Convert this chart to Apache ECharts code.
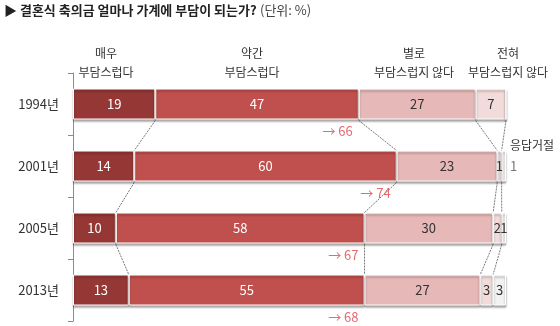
<!DOCTYPE html>
<html>
<head>
<meta charset="utf-8">
<script src="https://cdn.jsdelivr.net/npm/echarts@6/dist/echarts.min.js"></script>
<style>html,body{margin:0;padding:0;background:#fff}#c{width:560px;height:326px}</style>
</head>
<body>
<div id="c"></div>
<script>
// ---- data ----
const years = ['1994년', '2001년', '2005년', '2013년'];
const veryBurden = [19, 14, 10, 13];       // 매우 부담스럽다
const somewhatBurden = [47, 60, 58, 55];   // 약간 부담스럽다
const notVeryBurden = [27, 23, 30, 27];    // 별로 부담스럽지 않다
const notAtAllBurden = [7, 1, 2, 3];       // 전혀 부담스럽지 않다
const refused = [0, 1, 1, 3];              // 응답거절
const combined = [66, 74, 67, 68];         // 매우+약간

const seriesNames = ['매우 부담스럽다', '약간 부담스럽다', '별로 부담스럽지 않다', '전혀 부담스럽지 않다', '응답거절'];
const seriesData = [veryBurden, somewhatBurden, notVeryBurden, notAtAllBurden, refused];
const colors = ['#953735', '#C0504D', '#E6B9B8', '#F2DCDB', '#F2F2F2'];
const labelColors = ['#ffffff', '#ffffff', '#333333', '#333333', '#333333'];

const FONT = '"Noto Sans CJK KR", "Noto Sans", sans-serif';

const rowSum = years.map((_, i) => seriesData.reduce((s, arr) => s + arr[i], 0));
const norm = seriesData.map(arr => arr.map((v, i) => v / rowSum[i] * 100));
// cumulative normalized boundaries
const cum = years.map((_, i) => {
  let s = 0; const out = [];
  for (let k = 0; k < norm.length; k++) { s += norm[k][i]; out.push(s); }
  return out;
});

const barSeries = seriesNames.map((name, k) => ({
  name: name,
  type: 'bar',
  stack: 'total',
  barWidth: '50%',
  itemStyle: {
    color: colors[k],
    borderColor: '#ffffff',
    borderWidth: 1,
    shadowColor: 'rgba(0,0,0,0.35)',
    shadowBlur: 2,
    shadowOffsetY: 2
  },
  label: {
    show: true,
    position: 'inside',
    color: labelColors[k],
    fontSize: 13,
    fontFamily: FONT
  },
  data: norm[k].map((v, i) => {
    const raw = seriesData[k][i];
    const item = { value: v, label: { formatter: raw > 0 ? String(raw) : '' } };
    if (k === 4 && i === 1) {
      item.label.position = 'right';
      item.label.distance = 4;
      item.label.color = '#777';
    }
    return item;
  })
}));

const connectorSeries = {
  type: 'custom',
  silent: true,
  z: 1,
  data: [1, 2, 3].map(i => [0, i]),
  encode: { x: 0, y: 1 },
  renderItem: function (params, api) {
    const i = api.value(1);
    const barH = api.size([0, 1])[1] * 0.5;
    const children = [];
    for (let k = 0; k < 4; k++) {
      const p0 = api.coord([cum[i - 1][k], i - 1]);
      const p1 = api.coord([cum[i][k], i]);
      children.push({
        type: 'line',
        shape: { x1: p0[0], y1: p0[1] + barH / 2 + 1, x2: p1[0], y2: p1[1] - barH / 2 },
        style: { stroke: '#555', lineWidth: 0.8, lineDash: [2, 1] }
      });
    }
    return { type: 'group', children: children };
  }
};

const annotationSeries = {
  type: 'scatter',
  symbolSize: 0,
  silent: true,
  data: combined.map((v, i) => [cum[i][1], i]),
  label: {
    show: true,
    position: 'left',
    distance: 6,
    offset: [0, 27],
    color: '#E0454B',
    fontSize: 13,
    fontFamily: FONT,
    formatter: p => '→ ' + combined[p.dataIndex]
  }
};

const headerStyle = { fontSize: 12, fontFamily: FONT, fill: '#333', align: 'center', lineHeight: 19 };
const headers = [
  { x: 106, text: '매우\n부담스럽다' },
  { x: 252, text: '약간\n부담스럽다' },
  { x: 414, text: '별로\n부담스럽지 않다' },
  { x: 508, text: '전혀\n부담스럽지 않다' }
];

const chart = echarts.init(document.getElementById('c'), null, { renderer: 'canvas' });
chart.setOption({
  animation: false,
  backgroundColor: '#ffffff',
  grid: { left: 73, right: 54, top: 73, bottom: 5 },
  xAxis: { type: 'value', min: 0, max: 100, show: false },
  yAxis: {
    type: 'category',
    inverse: true,
    data: years,
    axisLine: { show: true, lineStyle: { color: '#8c8c8c', width: 1 } },
    axisTick: { show: true, length: 5, lineStyle: { color: '#8c8c8c' } },
    axisLabel: { color: '#333', fontSize: 13, fontFamily: FONT, margin: 14 }
  },
  graphic: [
    {
      type: 'text', left: 4, top: 4,
      style: {
        text: '{b|▶ 결혼식 축의금 얼마나 가계에 부담이 되는가?} {n|(단위: %)}',
        rich: {
          b: { fontSize: 13, fontWeight: 'bold', fontFamily: FONT, fill: '#222' },
          n: { fontSize: 13, fontFamily: FONT, fill: '#444' }
        }
      }
    },
    ...headers.map(h => ({
      type: 'text', x: h.x, y: 44,
      style: Object.assign({ text: h.text }, headerStyle)
    })),
    {
      type: 'text', x: 510, y: 139,
      style: { text: '응답거절', fontSize: 12, fontFamily: FONT, fill: '#333' }
    }
  ],
  series: [...barSeries, connectorSeries, annotationSeries]
});
</script>
</body>
</html>
